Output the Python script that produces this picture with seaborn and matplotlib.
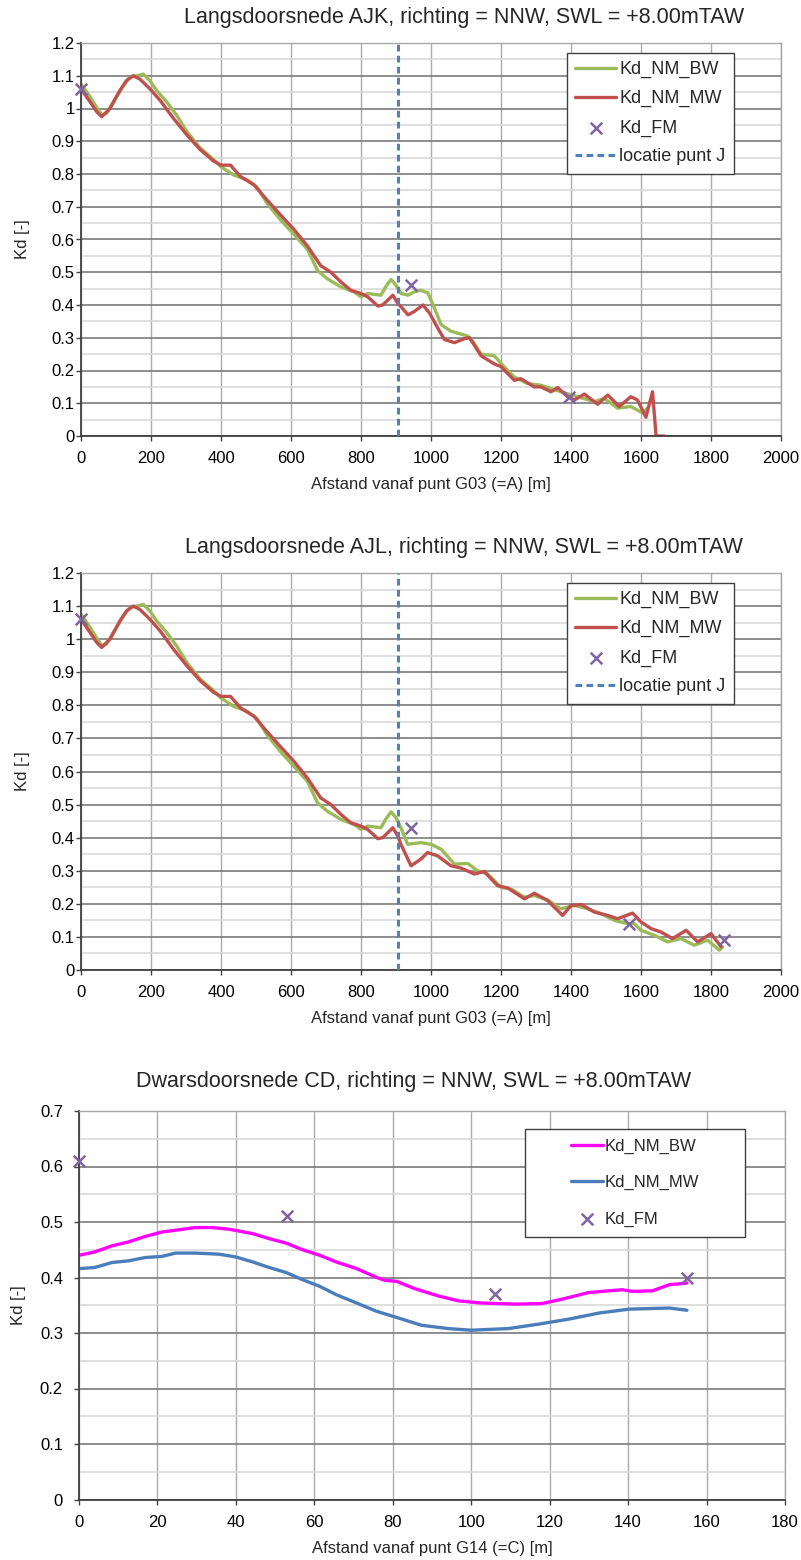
import numpy as np
import pandas as pd
import matplotlib
matplotlib.use("Agg")
import matplotlib.pyplot as plt
from matplotlib.patches import Rectangle
from matplotlib.ticker import FuncFormatter, MultipleLocator
import seaborn as sns

# ---------------- data ----------------
# shared first part (0 - ~900 m) of the longitudinal sections
x_bw_common = [0, 20, 35, 50, 60, 73, 92, 110, 121, 135, 145, 160, 178, 197, 216, 245, 273, 302,
               340, 378, 400, 436, 475, 503, 532, 570, 609, 647, 676, 704, 743, 780, 800, 819,
               857, 872, 886, 900]
y_bw_common = [1.075, 1.045, 1.02, 0.995, 0.98, 0.985, 1.02, 1.05, 1.07, 1.09, 1.098, 1.10, 1.105,
               1.085, 1.055, 1.02, 0.98, 0.93, 0.88, 0.845, 0.822, 0.797, 0.782, 0.76, 0.71, 0.66,
               0.615, 0.57, 0.505, 0.48, 0.455, 0.44, 0.425, 0.435, 0.43, 0.458, 0.478, 0.46]
x_mw_common = [0, 26, 45, 59, 83, 111, 130, 149, 168, 197, 226, 264, 302, 340, 378, 400, 427, 456,
               494, 532, 570, 609, 647, 685, 714, 743, 771, 800, 819, 848, 862, 891, 905]
y_mw_common = [1.06, 1.02, 0.99, 0.975, 1.0, 1.055, 1.085, 1.10, 1.09, 1.06, 1.025, 0.97, 0.92,
               0.875, 0.84, 0.827, 0.827, 0.792, 0.767, 0.72, 0.675, 0.63, 0.58, 0.52, 0.50, 0.47,
               0.445, 0.435, 0.425, 0.397, 0.40, 0.43, 0.405]

# AJK tail
x_ajk_bw_tail = [915, 934, 952, 971, 991, 1010, 1029, 1057, 1105, 1119, 1143, 1181, 1210, 1238,
                 1276, 1314, 1371, 1419, 1467, 1495, 1533, 1571, 1605, 1619]
y_ajk_bw_tail = [0.435, 0.43, 0.44, 0.445, 0.437, 0.39, 0.34, 0.32, 0.305, 0.29, 0.25, 0.245, 0.21,
                 0.18, 0.16, 0.155, 0.135, 0.12, 0.105, 0.115, 0.085, 0.09, 0.07, 0.085]
x_ajk_mw_tail = [914, 934, 952, 977, 996, 1019, 1038, 1067, 1095, 1110, 1143, 1181, 1200, 1238,
                 1257, 1295, 1314, 1343, 1362, 1390, 1410, 1438, 1476, 1505, 1538, 1571, 1590,
                 1614, 1633, 1643, 1667]
y_ajk_mw_tail = [0.395, 0.37, 0.38, 0.40, 0.375, 0.33, 0.295, 0.285, 0.297, 0.30, 0.245, 0.22, 0.212,
                 0.17, 0.175, 0.15, 0.15, 0.135, 0.148, 0.12, 0.11, 0.128, 0.097, 0.125, 0.09, 0.12,
                 0.11, 0.057, 0.135, 0.0, 0.0]
x_ajk_fm = [0, 943, 1393]
y_ajk_fm = [1.06, 0.46, 0.12]

# AJL tail
x_ajl_bw_tail = [914, 933, 971, 1000, 1029, 1067, 1105, 1133, 1162, 1200, 1229, 1267, 1295, 1333,
                 1371, 1410, 1448, 1486, 1524, 1562, 1581, 1600, 1638, 1676, 1714, 1752, 1790,
                 1824, 1833]
y_ajl_bw_tail = [0.43, 0.38, 0.385, 0.38, 0.365, 0.32, 0.322, 0.30, 0.29, 0.25, 0.245, 0.22, 0.225,
                 0.212, 0.185, 0.195, 0.185, 0.17, 0.15, 0.14, 0.14, 0.12, 0.105, 0.085, 0.095,
                 0.075, 0.09, 0.06, 0.07]
x_ajl_mw_tail = [914, 943, 971, 990, 1019, 1057, 1086, 1124, 1152, 1190, 1219, 1267, 1295, 1333,
                 1376, 1400, 1429, 1467, 1505, 1533, 1576, 1600, 1629, 1657, 1690, 1729, 1762,
                 1800, 1829]
y_ajl_mw_tail = [0.38, 0.315, 0.335, 0.355, 0.345, 0.315, 0.308, 0.29, 0.298, 0.255, 0.248, 0.215,
                 0.232, 0.21, 0.165, 0.195, 0.198, 0.175, 0.165, 0.155, 0.172, 0.145, 0.125, 0.115,
                 0.095, 0.12, 0.085, 0.11, 0.07]
x_ajl_fm = [0, 943, 1567, 1838]
y_ajl_fm = [1.06, 0.43, 0.14, 0.09]

x_punt_j = 905

# Dwarsdoorsnede CD
x_cd_bw = [0, 4, 8.4, 12.6, 16.9, 21.2, 25.5, 29.7, 34, 38.3, 44.3, 48.5, 52.8, 57, 61.4, 65.6,
           70.8, 75.9, 78, 81, 85.6, 91.5, 96.7, 102.6, 111.2, 118, 123.2, 130, 138.5, 141.1,
           146.2, 150.5, 155]
y_cd_bw = [0.44, 0.446, 0.457, 0.464, 0.474, 0.482, 0.486, 0.49, 0.49, 0.487, 0.479, 0.47, 0.462,
           0.45, 0.44, 0.428, 0.416, 0.40, 0.395, 0.393, 0.38, 0.367, 0.358, 0.354, 0.352, 0.353,
           0.361, 0.373, 0.378, 0.375, 0.376, 0.387, 0.39]
x_cd_mw = [0, 4, 8.4, 12.6, 16.9, 21.2, 24.6, 29.7, 35.7, 40, 44.3, 48.5, 52.8, 57, 61.4, 65.6,
           70.8, 75.9, 81, 87.3, 94.1, 100, 109.5, 117.2, 124.9, 132.6, 140.3, 150.5, 155]
y_cd_mw = [0.416, 0.418, 0.427, 0.43, 0.436, 0.438, 0.444, 0.444, 0.442, 0.437, 0.428, 0.418,
           0.409, 0.396, 0.384, 0.369, 0.354, 0.339, 0.328, 0.314, 0.308, 0.305, 0.308, 0.316,
           0.325, 0.336, 0.343, 0.345, 0.341]
x_cd_fm = [0, 53, 106, 155]
y_cd_fm = [0.61, 0.51, 0.37, 0.40]

titles = ["Langsdoorsnede AJK, richting = NNW, SWL = +8.00mTAW",
          "Langsdoorsnede AJL, richting = NNW, SWL = +8.00mTAW",
          "Dwarsdoorsnede CD, richting = NNW, SWL = +8.00mTAW"]
xlabels = ["Afstand vanaf punt G03 (=A) [m]", "Afstand vanaf punt G03 (=A) [m]",
           "Afstand vanaf punt G14 (=C) [m]"]
ylabel = "Kd [-]"
names = ["Kd_NM_BW", "Kd_NM_MW", "Kd_FM", "locatie punt J"]

# ---------------- style ----------------
sns.set_theme(style="white")
plt.rcParams['font.family'] = ['Liberation Sans', 'DejaVu Sans']

C_GREEN = '#9BBB59'
C_RED = '#C0504D'
C_PURPLE = '#8064A2'
C_BLUE = '#4F81BD'
C_MAG = '#FF00FF'
C_BLUE2 = '#4A7EBB'
C_MAJ = '#7A7A7A'
C_MIN = '#D9D9D9'
C_VGRID = '#ABABAB'
C_AXIS = '#404040'

W, H = 801, 1560
fig = plt.figure(figsize=(W / 100, H / 100), dpi=100)
fig.patch.set_facecolor('white')

fmt = FuncFormatter(lambda v, p: f"{round(v, 3):g}")


def style_axes(ax, xmax, xstep, ymax, ypad):
    ax.set_xlim(0, xmax)
    ax.set_ylim(0, ymax)
    ax.xaxis.set_major_locator(MultipleLocator(xstep))
    ax.yaxis.set_major_locator(MultipleLocator(0.1))
    ax.yaxis.set_minor_locator(MultipleLocator(0.05))
    ax.yaxis.set_major_formatter(fmt)
    ax.set_axisbelow(True)
    ax.grid(which='major', axis='y', color=C_MAJ, lw=1.2)
    ax.grid(which='minor', axis='y', color=C_MIN, lw=1.2)
    ax.grid(which='major', axis='x', color=C_VGRID, lw=1.0)
    ax.tick_params(axis='both', which='major', direction='out', length=3.6, width=1,
                   color=C_AXIS, labelsize=12, labelcolor='black', bottom=True, left=True)
    ax.tick_params(axis='y', which='major', pad=ypad)
    ax.tick_params(axis='x', which='major', pad=7.5)
    ax.tick_params(which='minor', length=0)
    for s in ['left', 'bottom']:
        ax.spines[s].set_color(C_AXIS)
        ax.spines[s].set_linewidth(1.3)
    for s in ['top', 'right']:
        ax.spines[s].set_color('#A6A6A6')
        ax.spines[s].set_linewidth(1.0)
    ax.set_facecolor('white')


def add_long(ax, xbw, ybw, xmw, ymw, xfm, yfm, title, xlabel, hpx):
    sns.lineplot(x=xbw, y=ybw, ax=ax, color=C_GREEN, lw=2.4, sort=False, estimator=None,
                 label=names[0])
    sns.lineplot(x=xmw, y=ymw, ax=ax, color=C_RED, lw=2.4, sort=False, estimator=None,
                 label=names[1])
    sns.scatterplot(x=xfm, y=yfm, ax=ax, marker='x', color=C_PURPLE, s=70, linewidth=1.8,
                    clip_on=False, zorder=5, label=names[2])
    ax.axvline(x_punt_j, color=C_BLUE, lw=2.2, ls=(0, (2.2, 1.4)), label=names[3], zorder=3)
    style_axes(ax, 2000, 200, 1.2, 1)
    h, l = ax.get_legend_handles_labels()
    order = [l.index(n) for n in names]
    leg = ax.legend([h[i] for i in order], [l[i] for i in order], loc='upper left',
                    bbox_to_anchor=(0.694, 1 - 10 / hpx), fontsize=13, handlelength=2.3,
                    handletextpad=0.15, labelspacing=0.66, borderpad=0.45, borderaxespad=0,
                    fancybox=False, framealpha=1, edgecolor=C_AXIS, scatterpoints=1)
    leg.get_frame().set_linewidth(1.0)
    ax.text(0.547, 1 + 25 / hpx, title, transform=ax.transAxes, ha='center', va='center',
            fontsize=15.5)
    ax.set_xlabel(xlabel, fontsize=12)
    ax.xaxis.set_label_coords(0.5, -49 / hpx)
    ax.xaxis.label.set_verticalalignment('center')
    ax.set_ylabel(ylabel, fontsize=12)
    ax.yaxis.set_label_coords((22 - 81) / 700, 0.5)
    ax.yaxis.label.set_verticalalignment('center')


# Plot 1
ax1 = fig.add_axes([81 / W, 1 - 436 / H, 700 / W, 393 / H])
add_long(ax1, x_bw_common + x_ajk_bw_tail, y_bw_common + y_ajk_bw_tail,
         x_mw_common + x_ajk_mw_tail, y_mw_common + y_ajk_mw_tail,
         x_ajk_fm, y_ajk_fm, titles[0], xlabels[0], 393)

# Plot 2
ax2 = fig.add_axes([81 / W, 1 - 970 / H, 700 / W, 397 / H])
add_long(ax2, x_bw_common + x_ajl_bw_tail, y_bw_common + y_ajl_bw_tail,
         x_mw_common + x_ajl_mw_tail, y_mw_common + y_ajl_mw_tail,
         x_ajl_fm, y_ajl_fm, titles[1], xlabels[1], 397)

# Plot 3
ax3 = fig.add_axes([79 / W, 1 - 1499.5 / H, 706 / W, 388.5 / H])
sns.lineplot(x=x_cd_bw, y=y_cd_bw, ax=ax3, color=C_MAG, lw=2.4, sort=False, estimator=None,
             label=names[0])
sns.lineplot(x=x_cd_mw, y=y_cd_mw, ax=ax3, color=C_BLUE2, lw=2.4, sort=False, estimator=None,
             label=names[1])
sns.scatterplot(x=x_cd_fm, y=y_cd_fm, ax=ax3, marker='x', color=C_PURPLE, s=70, linewidth=1.8,
                clip_on=False, zorder=5, label=names[2])
style_axes(ax3, 180, 20, 0.7, 8)
rect = Rectangle((0.632, 0.676), 0.311, 0.278, transform=ax3.transAxes, facecolor='white',
                 edgecolor=C_AXIS, lw=1.0, zorder=4)
ax3.add_patch(rect)
h, l = ax3.get_legend_handles_labels()
leg3 = ax3.legend(h, l, loc='center', bbox_to_anchor=(0.7875, 0.815), fontsize=12,
                  handlelength=1.9, handletextpad=0.12, labelspacing=1.27, frameon=False,
                  scatterpoints=1)
leg3.set_zorder(6)
ax3.text(0.474, 1 + 29 / 388.5, titles[2], transform=ax3.transAxes, ha='center', va='center',
         fontsize=15.5)
ax3.set_xlabel(xlabels[2], fontsize=12)
ax3.xaxis.set_label_coords(0.5, -48.5 / 388.5)
ax3.xaxis.label.set_verticalalignment('center')
ax3.set_ylabel(ylabel, fontsize=12)
ax3.yaxis.set_label_coords((19 - 79) / 706, 0.5)
ax3.yaxis.label.set_verticalalignment('center')

fig.savefig('out.png', dpi=100)
